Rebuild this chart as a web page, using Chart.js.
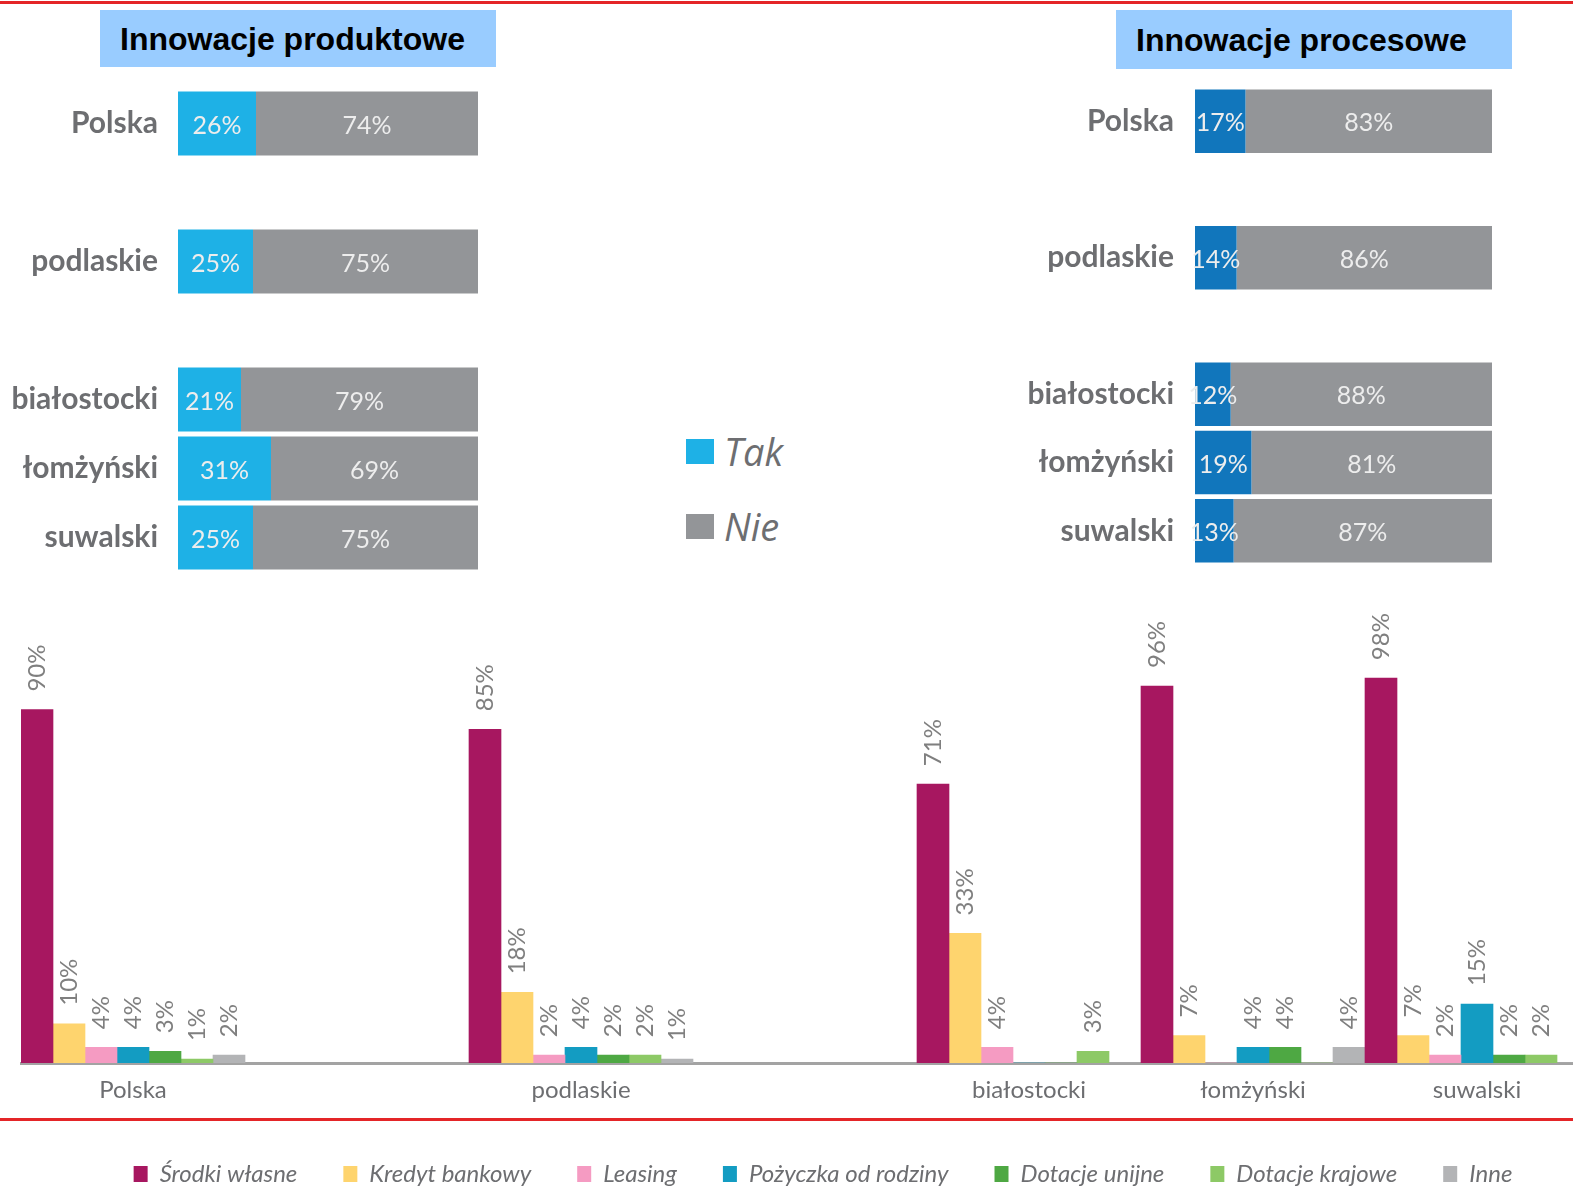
<!DOCTYPE html>
<html lang="pl">
<head>
<meta charset="utf-8">
<title>Innowacje i źródła finansowania</title>
<script src="https://cdn.jsdelivr.net/npm/chart.js@4.4.1/dist/chart.umd.min.js"></script>
<style>
  html, body { margin: 0; padding: 0; background: #fff; }
  body { width: 1573px; height: 1187px; overflow: hidden; position: relative; font-family: Lato, sans-serif; }
  .box { position: absolute; }
  .redline { position: absolute; left: 0; width: 1573px; height: 3px; background: #E42528; }
  .title { position: absolute; box-sizing: border-box; padding-left: 20px; background: #99CCFF;
           font: bold 32px "Liberation Sans", Arial, sans-serif; color: #000; }
  .key { position: absolute; left: 686px; width: 28px; height: 25px; }
  .keytext { position: absolute; left: 724px; font: italic 400 38px "Open Sans", sans-serif; color: #6D6E71; line-height: 40px; }
</style>
</head>
<body>
<div class="redline" style="top:1px"></div>

<div class="title" style="left:100px; top:10px; width:396px; height:57px; line-height:58px;">Innowacje produktowe</div>
<div class="title" style="left:1116px; top:10px; width:396px; height:59px; line-height:60px;">Innowacje procesowe</div>

<div class="box" style="left:0; top:89px; width:478px; height:483px;"><canvas id="produktowe"></canvas></div>
<div class="box" style="left:1000px; top:87px; width:492px; height:478px;"><canvas id="procesowe"></canvas></div>

<div class="key" style="top:439px; background:#1EB1E6;"></div>
<div class="keytext" style="top:431px;">Tak</div>
<div class="key" style="top:514px; background:#939598;"></div>
<div class="keytext" style="top:506px;">Nie</div>

<div class="box" style="left:0; top:580px; width:1589px; height:616px;"><canvas id="finansowanie"></canvas></div>
<div class="redline" style="top:1118px"></div>

<script>
// Regiony
const regions = ['Polska', 'podlaskie', 'białostocki', 'łomżyński', 'suwalski'];

// Innowacje produktowe (%)
const produktTak = [26, 25, 21, 31, 25];
const produktNie = [74, 75, 79, 69, 75];

// Innowacje procesowe (%)
const procesTak = [17, 14, 12, 19, 13];
const procesNie = [83, 86, 88, 81, 87];

// Źródła finansowania (%)
const sources = ['Środki własne', 'Kredyt bankowy', 'Leasing', 'Pożyczka od rodziny', 'Dotacje unijne', 'Dotacje krajowe', 'Inne'];
const srodkiWlasne   = [90, 85, 71, 96, 98];
const kredytBankowy  = [10, 18, 33, 7, 7];
const leasing        = [4, 2, 4, 0, 2];
const pozyczka       = [4, 4, 0, 4, 15];
const dotacjeUnijne  = [3, 2, 0, 4, 2];
const dotacjeKrajowe = [1, 2, 3, 0, 2];
const inne           = [2, 1, 0, 4, 0];

const sourceColors = ['#A71760', '#FED46E', '#F59BC2', '#139CC2', '#4EA843', '#8DC966', '#B3B4B6'];

// empty slots after Polska and podlaskie, like in the original layout
function spaced(arr, blank) {
  return [arr[0], blank, arr[1], blank].concat(arr.slice(2));
}

const labelGrey = '#6D6E71';

// percentages in the middle of each stacked segment
const segmentLabels = {
  id: 'segmentLabels',
  afterDatasetsDraw(chart, args, opts) {
    const ctx = chart.ctx;
    ctx.save();
    ctx.font = opts.font;
    ctx.fillStyle = opts.color;
    ctx.textAlign = 'center';
    ctx.textBaseline = 'middle';
    chart.data.datasets.forEach((ds, i) => {
      chart.getDatasetMeta(i).data.forEach((bar, j) => {
        const v = ds.data[j];
        if (v == null) return;
        const p = bar.getCenterPoint();
        ctx.fillText(v + '%', p.x, p.y + 2);
      });
    });
    ctx.restore();
  }
};

// rotated percentages above the columns
const rotatedLabels = {
  id: 'rotatedLabels',
  afterDatasetsDraw(chart, args, opts) {
    const ctx = chart.ctx;
    ctx.save();
    ctx.font = opts.font;
    ctx.fillStyle = opts.color;
    ctx.textAlign = 'left';
    ctx.textBaseline = 'middle';
    chart.data.datasets.forEach((ds, i) => {
      chart.getDatasetMeta(i).data.forEach((bar, j) => {
        const v = ds.data[j];
        if (!v) return;
        ctx.save();
        ctx.translate(bar.x, bar.y - opts.offset);
        ctx.rotate(-Math.PI / 2);
        ctx.fillText(v + '%', 0, 0);
        ctx.restore();
      });
    });
    ctx.restore();
  }
};

// the legend row sits a bit right of the canvas centre
const legendShift = {
  id: 'legendShift',
  afterLayout(chart, args, opts) {
    chart.legend.left += opts.dx * 2;
  }
};

function innovationChart(id, tak, nie, takColor, axisWidth, tickPad) {
  return new Chart(document.getElementById(id), {
    type: 'bar',
    data: {
      labels: spaced(regions, ''),
      datasets: [
        { label: 'Tak', data: spaced(tak, null), backgroundColor: takColor },
        { label: 'Nie', data: spaced(nie, null), backgroundColor: '#939598' }
      ]
    },
    options: {
      indexAxis: 'y',
      responsive: true,
      maintainAspectRatio: false,
      animation: false,
      barPercentage: 0.93,
      categoryPercentage: 1,
      layout: { padding: 0 },
      scales: {
        x: { display: false, stacked: true, min: 0, max: 100 },
        y: {
          stacked: true,
          grid: { display: false, drawTicks: false },
          border: { display: false },
          ticks: { color: labelGrey, padding: tickPad, font: { family: 'Lato', size: 30, weight: 'bold' } },
          afterFit: function (scale) {
            scale.width = axisWidth;
            scale.paddingTop = 0;
            scale.paddingBottom = 0;
          }
        }
      },
      plugins: {
        legend: { display: false },
        tooltip: { enabled: false },
        segmentLabels: { font: '25px Lato', color: '#EDEDED' }
      }
    },
    plugins: [segmentLabels]
  });
}

innovationChart('produktowe', produktTak, produktNie, '#1EB1E6', 178, 20);
innovationChart('procesowe', procesTak, procesNie, '#1176BC', 195, 21);

const sourceValues = [srodkiWlasne, kredytBankowy, leasing, pozyczka, dotacjeUnijne, dotacjeKrajowe, inne];

new Chart(document.getElementById('finansowanie'), {
  type: 'bar',
  data: {
    labels: spaced(regions, ''),
    datasets: sources.map((name, k) => ({
      label: name,
      data: spaced(sourceValues[k], null),
      backgroundColor: sourceColors[k]
    }))
  },
  options: {
    responsive: true,
    maintainAspectRatio: false,
    animation: false,
    barPercentage: 1,
    categoryPercentage: 1,
    layout: { padding: { left: 21 } },
    scales: {
      x: {
        grid: { display: false },
        border: { display: true, color: '#A3A3A3', width: 3 },
        ticks: { color: labelGrey, padding: 5, maxRotation: 0, font: { family: 'Lato', size: 24 } },
        afterFit: function (scale) { scale.height = 53; }
      },
      y: { display: false, min: 0, max: 123 }
    },
    plugins: {
      legend: {
        position: 'bottom',
        labels: {
          boxWidth: 14,
          boxHeight: 16,
          padding: 46,
          color: labelGrey,
          font: { family: 'Lato', size: 24, style: 'italic' }
        }
      },
      legendShift: { dx: 18 },
      tooltip: { enabled: false },
      rotatedLabels: { font: '24px Lato', color: '#7F7F7F', offset: 18 }
    }
  },
  plugins: [rotatedLabels, legendShift]
});
</script>
</body>
</html>
